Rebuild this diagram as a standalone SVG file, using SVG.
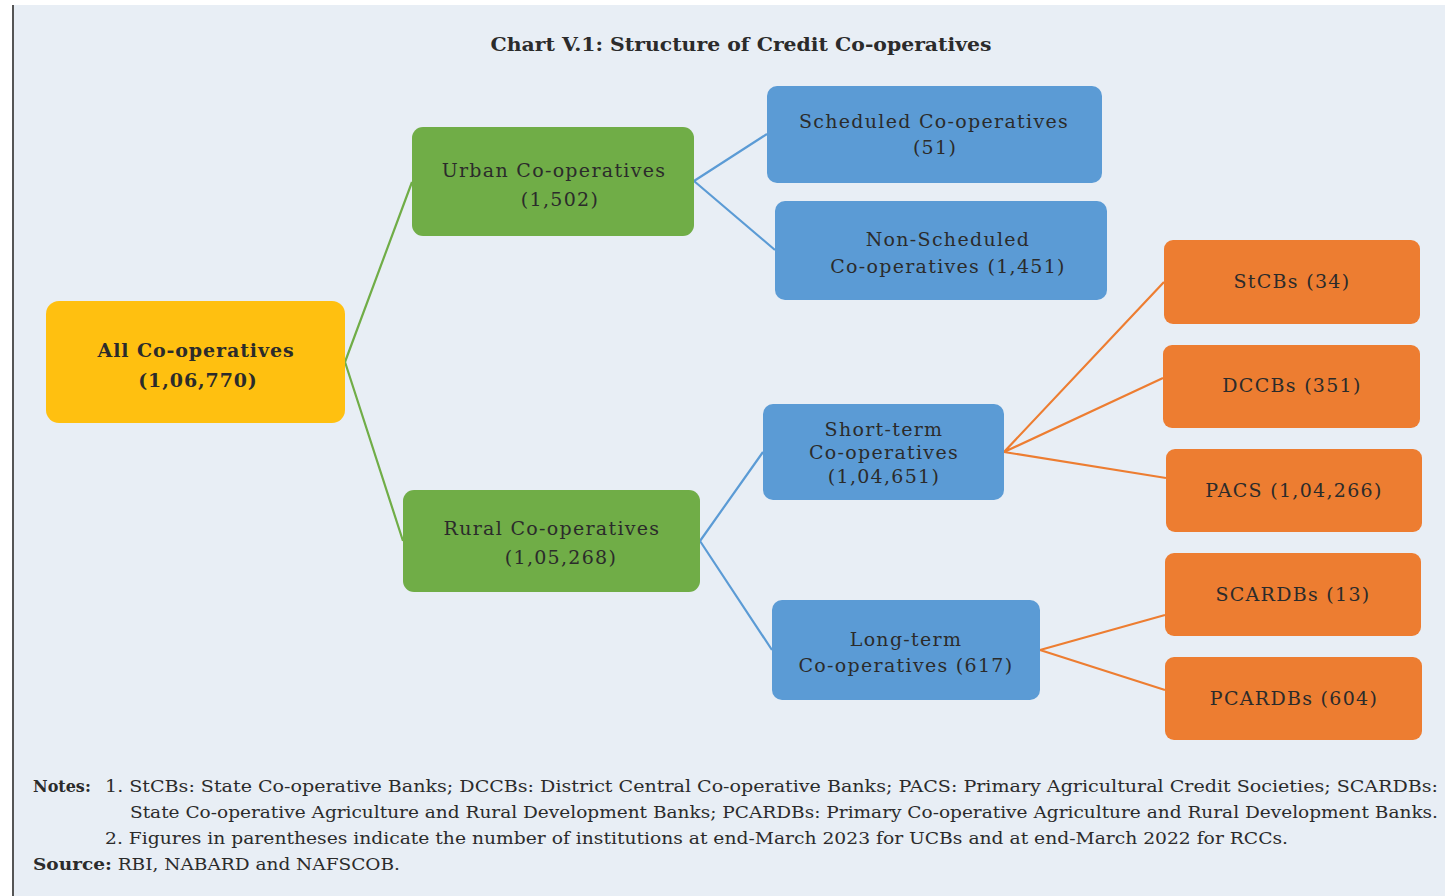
<svg xmlns="http://www.w3.org/2000/svg" width="1445" height="896" viewBox="0 0 1445 896">
<style>
.t{font-family:"DejaVu Serif","Liberation Serif",serif;fill:#2b2b2b;text-anchor:middle}
.n{font-size:19px;letter-spacing:1.3px}
.b{font-weight:bold}
.note{font-family:"DejaVu Serif","Liberation Serif",serif;fill:#2b2b2b;font-size:16px}
.y{fill:#ffc010}.g{fill:#70ad47}.bl{fill:#5b9bd5}.o{fill:#ed7d31}
.cg{stroke:#70ad47;stroke-width:2.2;fill:none}
.cb{stroke:#5b9bd5;stroke-width:2.2;fill:none}
.co{stroke:#ed7d31;stroke-width:2.2;fill:none}
</style>
<rect x="0" y="0" width="1445" height="896" fill="#ffffff"/>
<rect x="14" y="5" width="1431" height="891" fill="#e8eef5"/>
<line x1="13" y1="5" x2="13" y2="896" stroke="#555" stroke-width="2"/>
<text class="t b" x="741" y="51" font-size="19" textLength="501" lengthAdjust="spacingAndGlyphs">Chart V.1: Structure of Credit Co-operatives</text>
<g id="connectors">
<path class="cg" d="M345 362 L412 182 M345 362 L403 541"/>
<path class="cb" d="M694 181 L767 134 M694 181 L775 250 M700 541 L763 452 M700 541 L772 650"/>
<path class="co" d="M1004 452 L1164 282 M1004 452 L1163 378 M1004 452 L1166 478 M1040 650 L1165 615 M1040 650 L1165 690"/>
</g>
<g id="all"><rect class="y" x="46" y="301" width="299" height="122" rx="13"/><text class="t b n" x="196" y="357" style="letter-spacing:0.9px">All Co-operatives</text><text class="t b n" x="198" y="387" style="letter-spacing:0.9px">(1,06,770)</text></g>
<g id="urban"><rect class="g" x="412" y="127" width="282" height="109" rx="11"/><text class="t n" x="554" y="177">Urban Co-operatives</text><text class="t n" x="560" y="206">(1,502)</text></g>
<g id="rural"><rect class="g" x="403" y="490" width="297" height="102" rx="11"/><text class="t n" x="552" y="535">Rural Co-operatives</text><text class="t n" x="561" y="564">(1,05,268)</text></g>
<g id="scheduled"><rect class="bl" x="767" y="86" width="335" height="97" rx="10"/><text class="t n" x="934" y="128">Scheduled Co-operatives</text><text class="t n" x="935" y="154">(51)</text></g>
<g id="nonscheduled"><rect class="bl" x="775" y="201" width="332" height="99" rx="10"/><text class="t n" x="948" y="246">Non-Scheduled</text><text class="t n" x="948" y="273">Co-operatives (1,451)</text></g>
<g id="shortterm"><rect class="bl" x="763" y="404" width="241" height="96" rx="10"/><text class="t n" x="884" y="436">Short-term</text><text class="t n" x="884" y="459">Co-operatives</text><text class="t n" x="884" y="483">(1,04,651)</text></g>
<g id="longterm"><rect class="bl" x="772" y="600" width="268" height="100" rx="10"/><text class="t n" x="906" y="646">Long-term</text><text class="t n" x="906" y="672">Co-operatives (617)</text></g>
<g id="stcbs"><rect class="o" x="1164" y="240" width="256" height="84" rx="9"/><text class="t n" x="1292" y="288">StCBs (34)</text></g>
<g id="dccbs"><rect class="o" x="1163" y="345" width="257" height="83" rx="9"/><text class="t n" x="1292" y="392">DCCBs (351)</text></g>
<g id="pacs"><rect class="o" x="1166" y="449" width="256" height="83" rx="9"/><text class="t n" x="1294" y="497">PACS (1,04,266)</text></g>
<g id="scardbs"><rect class="o" x="1165" y="553" width="256" height="83" rx="9"/><text class="t n" x="1293" y="601">SCARDBs (13)</text></g>
<g id="pcardbs"><rect class="o" x="1165" y="657" width="257" height="83" rx="9"/><text class="t n" x="1294" y="705">PCARDBs (604)</text></g>
<g id="notes">
<text class="note b" x="33" y="792">Notes:</text>
<text class="note" x="105" y="792" textLength="1333" lengthAdjust="spacingAndGlyphs">1. StCBs: State Co-operative Banks; DCCBs: District Central Co-operative Banks; PACS: Primary Agricultural Credit Societies; SCARDBs:</text>
<text class="note" x="130" y="818" textLength="1308" lengthAdjust="spacingAndGlyphs">State Co-operative Agriculture and Rural Development Banks; PCARDBs:  Primary Co-operative Agriculture and Rural Development Banks.</text>
<text class="note" x="105" y="844" textLength="1183" lengthAdjust="spacingAndGlyphs">2. Figures in parentheses indicate the number of institutions at end-March 2023 for UCBs and at end-March 2022 for RCCs.</text>
<text class="note" x="33" y="870" textLength="367" lengthAdjust="spacingAndGlyphs"><tspan font-weight="bold">Source:</tspan> RBI, NABARD and NAFSCOB.</text>
</g>
</svg>
